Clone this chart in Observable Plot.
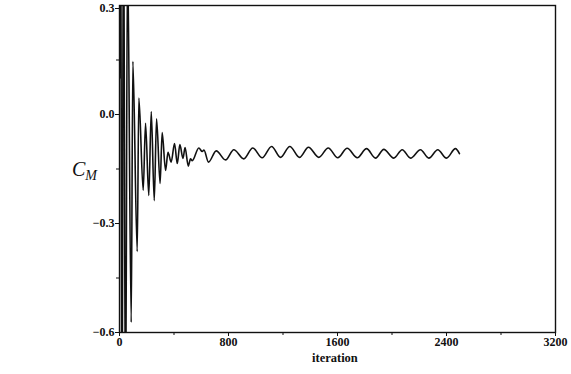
<!DOCTYPE html>
<html><head><meta charset="utf-8">
<script src="https://cdn.jsdelivr.net/npm/d3@7"></script>
<script src="https://cdn.jsdelivr.net/npm/@observablehq/plot@0.6"></script>
<style>
body{margin:0;background:#fff}
#wrap{position:relative;width:571px;height:374px}
.lab{position:absolute;font-family:"Liberation Serif",serif;color:#111;white-space:nowrap}
</style>
</head><body><div id="wrap"></div>
<script>
const iterations = [0, 8, 18, 29, 44, 59, 86, 98, 130, 142, 174, 191, 215, 233, 255, 272, 298, 313, 338, 356, 379, 404, 424, 443, 466, 481, 505, 521, 534, 582, 607, 620, 653,
  710, 778, 839, 912, 978, 1047, 1116, 1182, 1250, 1321, 1387, 1463, 1532, 1602, 1671, 1745, 1813, 1879, 1940, 2013, 2075, 2136, 2209, 2270, 2336, 2400, 2466, 2495];
const cm = [0.1, 0.8, -1.1, 0.7, -0.9, 0.45, -0.572, 0.146, -0.377, 0.045, -0.209, -0.024, -0.223, 0.008, -0.237, -0.012, -0.19, -0.05, -0.154, -0.104, -0.131, -0.08, -0.135, -0.083, -0.121, -0.091, -0.142, -0.122, -0.127, -0.092, -0.102, -0.098, -0.131,
  -0.100, -0.125, -0.097, -0.122, -0.092, -0.119, -0.088, -0.118, -0.088, -0.118, -0.090, -0.118, -0.092, -0.119, -0.093, -0.119, -0.094, -0.120, -0.096, -0.120, -0.097, -0.120, -0.097, -0.120, -0.097, -0.120, -0.094, -0.108];
const xTicks = [0, 800, 1600, 2400, 3200];
const xMinor = [400, 1200, 2000, 2800];
const yTicksTop = [0.3];
const yTicks = [0, -0.3, -0.6];
const yMinor = [0.15, -0.15, -0.45];

const data = iterations.map((x, i) => ({x, y: cm[i]}));
const fmt = d => d3.format(".1f")(d).replace("-", "\u2212");

const chart = Plot.plot({
  width: 571, height: 374,
  marginLeft: 119, marginRight: 16, marginTop: 5, marginBottom: 42,
  x: {domain: [0, 3200]},
  y: {domain: [-0.6, 0.3]},
  style: {fontFamily: "'Liberation Serif', serif", fontSize: "12px", fontWeight: "bold", color: "#111", background: "#fff"},
  marks: [
    Plot.axisX({ticks: xTicks, tickSize: 4, tickPadding: 1, tickFormat: d => String(d), label: null}),
    Plot.axisX({ticks: xMinor, tickSize: 3, tickFormat: () => "", label: null}),
    Plot.axisY({ticks: yTicks, tickSize: 4, tickPadding: 1, tickFormat: fmt, label: null}),
    Plot.axisY({ticks: yTicksTop, tickSize: 4, tickPadding: 1, tickFormat: fmt, label: null, dy: 3}),
    Plot.axisY({ticks: yMinor, tickSize: 3, tickFormat: () => "", label: null}),
    Plot.line(data, {x: "x", y: "y", stroke: "#111", strokeWidth: 1.6, curve: "monotone-x", clip: true}),
    Plot.frame({stroke: "#111", strokeWidth: 1.4})
  ]
});
const wrap = document.getElementById("wrap");
wrap.appendChild(chart);
const xl = document.createElement("div");
xl.className = "lab";
xl.style.cssText = "left:312px;top:351px;font-size:12.5px;font-weight:bold;";
xl.textContent = "iteration";
wrap.appendChild(xl);
const yl = document.createElement("div");
yl.className = "lab";
yl.style.cssText = "left:72px;top:158px;font-size:20px;font-style:italic;";
yl.innerHTML = "C<sub style='font-size:14px;vertical-align:-4px'>M</sub>";
wrap.appendChild(yl);
</script>
</body></html>
